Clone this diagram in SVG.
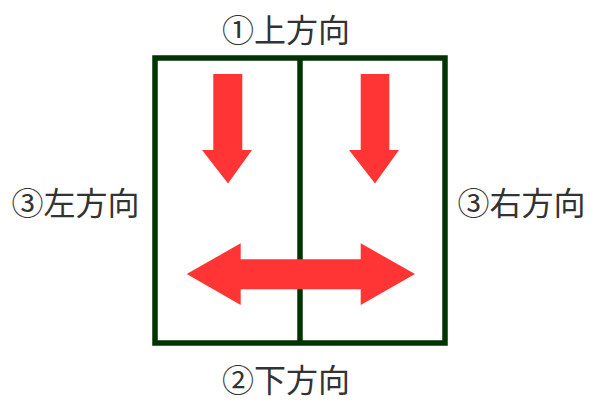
<svg xmlns="http://www.w3.org/2000/svg" width="600" height="412" viewBox="0 0 600 412">
<style>
.lbl{font-family:"Noto Sans CJK JP","Noto Sans CJK SC",sans-serif;font-size:32px;fill:#333333;text-anchor:middle}
.frame{fill:none;stroke:#023302;stroke-width:5.5}
.arrow{fill:#ff3535}
</style>
<rect width="600" height="412" fill="#ffffff"/>
<g id="window">
<rect class="frame" x="155" y="58" width="290" height="285"/>
<line class="frame" x1="300" y1="58" x2="300" y2="343"/>
</g>
<g id="connectors">
<polygon class="arrow" points="213.3,74 242.3,74 242.3,150 252,150 228,183.5 202,150 213.3,150"/>
<polygon class="arrow" points="360.7,74 389.3,74 389.3,150 399,150 375,183.5 349,150 360.7,150"/>
<polygon class="arrow" points="186.7,274 240.7,243.3 240.7,259.3 360.7,259.3 360.7,243.3 415,274 360.7,305 360.7,289.3 240.7,289.3 240.7,305"/>
</g>
<g id="label-top"><text class="lbl" x="286" y="42">①上方向</text></g>
<g id="label-bottom"><text class="lbl" x="286" y="392">②下方向</text></g>
<g id="label-left"><text class="lbl" x="75.5" y="215">③左方向</text></g>
<g id="label-right"><text class="lbl" x="521.5" y="215">③右方向</text></g>
</svg>
